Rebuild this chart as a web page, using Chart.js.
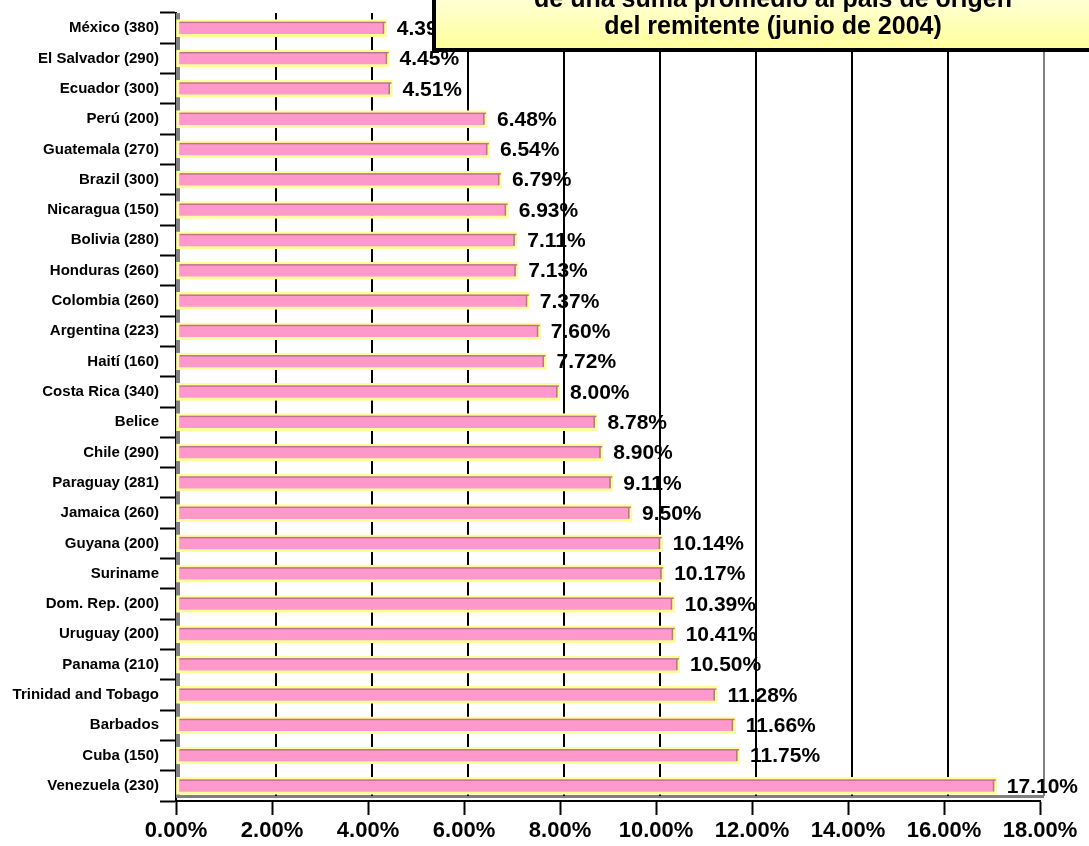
<!DOCTYPE html>
<html>
<head>
<meta charset="utf-8">
<script src="https://cdn.jsdelivr.net/npm/chart.js@4.4.1/dist/chart.umd.min.js"></script>
<style>
  html, body { margin: 0; padding: 0; background: #fff; }
  #wrap { width: 1089px; height: 846px; position: relative; }
</style>
</head>
<body>
<div id="wrap"><canvas id="remesasChart"></canvas></div>
<script>
const countries = [
  "México (380)", "El Salvador (290)", "Ecuador (300)", "Perú (200)", "Guatemala (270)",
  "Brazil (300)", "Nicaragua (150)", "Bolivia (280)", "Honduras (260)", "Colombia (260)",
  "Argentina (223)", "Haití (160)", "Costa Rica (340)", "Belice", "Chile (290)",
  "Paraguay (281)", "Jamaica (260)", "Guyana (200)", "Suriname", "Dom. Rep. (200)",
  "Uruguay (200)", "Panama (210)", "Trinidad and Tobago", "Barbados", "Cuba (150)",
  "Venezuela (230)"
]
const costPercent = [
  4.39, 4.45, 4.51, 6.48, 6.54,
  6.79, 6.93, 7.11, 7.13, 7.37,
  7.60, 7.72, 8.00, 8.78, 8.90,
  9.11, 9.50, 10.14, 10.17, 10.39,
  10.41, 10.50, 11.28, 11.66, 11.75,
  17.10
]
const titleLines = [
  "de una suma promedio al país de origen",
  "del remitente (junio de 2004)"
]
const xMax = 18
const xStep = 2

const FONT = "'Liberation Sans', Arial, sans-serif"
const DEPTH = 4 // 3d shift of the back wall

// back wall: gray edges + shifted grid lines
const wallPlugin = {
  id: "wall",
  beforeDatasetsDraw(chart) {
    const { ctx, chartArea, scales } = chart
    const x = scales.x
    ctx.save()
    // floor line
    ctx.fillStyle = "#808080"
    ctx.fillRect(chartArea.left, chartArea.bottom - 6, chartArea.right - chartArea.left + DEPTH, 3)
    // left wall strip
    ctx.fillRect(chartArea.left, chartArea.top, DEPTH, chartArea.bottom - chartArea.top - 3)
    for (let v = xStep; v <= xMax; v += xStep) {
      const px = x.getPixelForValue(v) + DEPTH
      ctx.strokeStyle = v === xMax ? "#808080" : "#000"
      ctx.lineWidth = 2
      ctx.beginPath()
      ctx.moveTo(px, chartArea.top)
      ctx.lineTo(px, chartArea.bottom - 5)
      ctx.stroke()
    }
    ctx.restore()
  }
}

// 3d edge on bars + value labels
const barLabelPlugin = {
  id: "barLabels",
  afterDatasetsDraw(chart) {
    const { ctx } = chart
    const meta = chart.getDatasetMeta(0)
    ctx.save()
    meta.data.forEach((bar, i) => {
      const top = bar.y - bar.height / 2
      ctx.fillStyle = "#C07090"
      ctx.fillRect(bar.base + 3, top + 2, bar.x - bar.base - 4, 1.5)
      ctx.fillRect(bar.x - 4, top + 3, 1.5, bar.height - 6)
      ctx.fillStyle = "#000"
      ctx.font = "bold 21px " + FONT
      ctx.textAlign = "left"
      ctx.textBaseline = "middle"
      ctx.fillText(costPercent[i].toFixed(2) + "%", bar.x + 10, bar.y + 1)
    })
    ctx.restore()
  }
}

// title box, partly off the page at the top
const titleBoxPlugin = {
  id: "titleBox",
  afterDraw(chart) {
    const { ctx } = chart
    ctx.save()
    const g = ctx.createLinearGradient(0, -10, 0, 50)
    g.addColorStop(0, "#FFFFE0")
    g.addColorStop(1, "#FFFF99")
    ctx.fillStyle = g
    ctx.fillRect(432, -10, 700, 60)
    ctx.strokeStyle = "#000"
    ctx.lineWidth = 4
    ctx.strokeRect(434, -10, 700, 60)
    ctx.fillStyle = "#000"
    ctx.font = "bold 25px " + FONT
    ctx.textAlign = "center"
    ctx.textBaseline = "middle"
    ctx.fillText(titleLines[0], 773, 0)
    ctx.fillText(titleLines[1], 773, 27)
    ctx.restore()
  }
}

const ctx = document.getElementById("remesasChart")

new Chart(ctx, {
  type: "bar",
  data: {
    labels: countries,
    datasets: [
      {
        data: costPercent,
        backgroundColor: "#FF99CC",
        borderColor: "#FFFF99",
        borderWidth: 3,
        borderSkipped: false,
        barThickness: 17,
      },
    ],
  },
  options: {
    indexAxis: "y",
    responsive: true,
    maintainAspectRatio: false,
    animation: false,
    layout: {
      padding: { left: 0, right: 49, top: 13, bottom: 0 },
    },
    plugins: {
      legend: { display: false },
      tooltip: { enabled: false },
      title: { display: false },
    },
    scales: {
      x: {
        min: 0,
        max: xMax,
        afterFit(scale) { scale.height = 45 },
        ticks: {
          stepSize: xStep,
          color: "#000",
          font: { family: FONT, size: 22, weight: "bold" },
          padding: 3,
          callback: v => v.toFixed(2) + "%",
        },
        grid: {
          drawOnChartArea: false,
          tickLength: 14,
          tickWidth: 2,
          tickColor: "#000",
        },
        border: { display: true, color: "#000", width: 2 },
      },
      y: {
        afterFit(scale) { scale.width = 176 },
        ticks: {
          color: "#000",
          font: { family: FONT, size: 15, weight: "bold" },
          padding: 1,
          autoSkip: false,
        },
        grid: {
          offset: true,
          drawOnChartArea: false,
          tickLength: 16,
          tickWidth: 2,
          tickColor: "#000",
        },
        border: { display: true, color: "#000", width: 2 },
      },
    },
  },
  plugins: [wallPlugin, barLabelPlugin, titleBoxPlugin],
})
</script>
</body>
</html>
